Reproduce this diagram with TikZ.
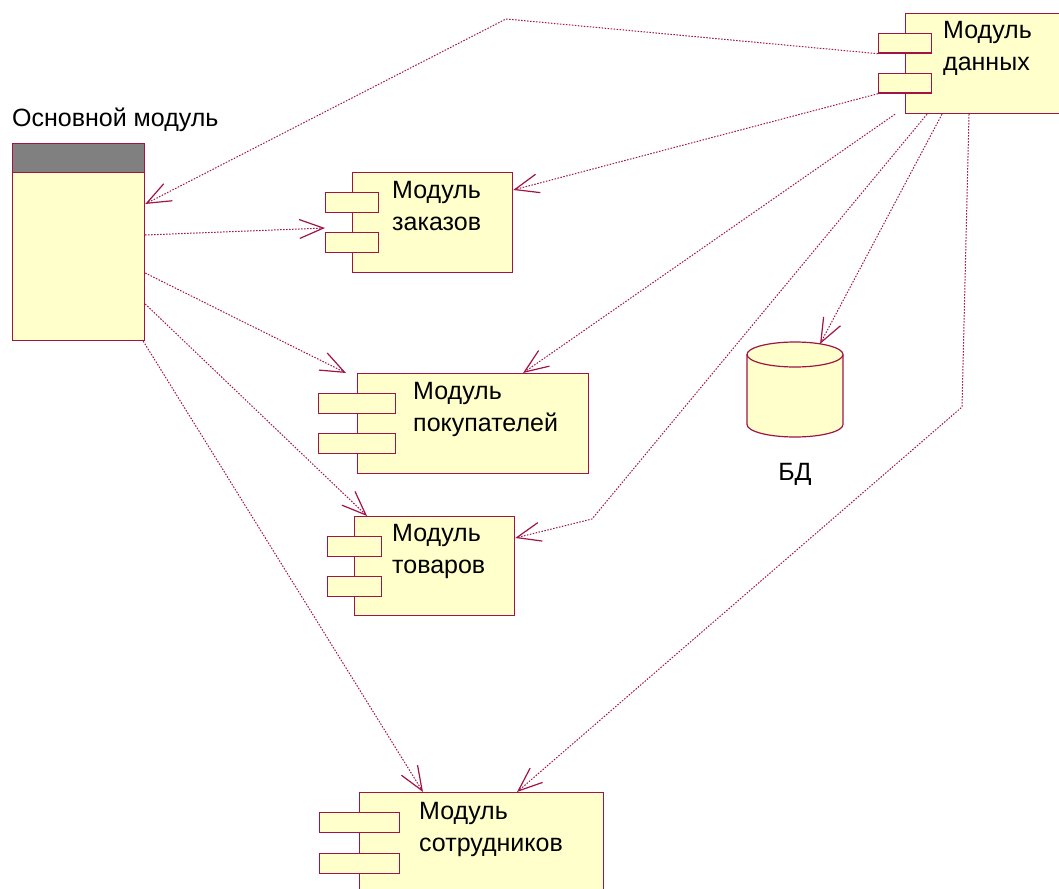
\documentclass[tikz,border=0pt]{standalone}
\usepackage{fontspec}
\setmainfont{Liberation Sans}
\usetikzlibrary{arrows.meta}

\definecolor{rosered}{RGB}{160,20,70}
\definecolor{roseyellow}{RGB}{255,255,204}
\definecolor{headgray}{RGB}{128,128,128}

\tikzset{
  box/.style={draw=rosered, fill=roseyellow, line width=1.2pt,
    anchor=north west, inner sep=0pt},
  port/.style={box, minimum height=19.5pt},
  lbl/.style={anchor=north west, inner sep=0pt, align=left,
    font=\fontsize{25pt}{32pt}\selectfont},
  dep/.style={rosered, line width=1pt, dash pattern=on 1.5pt off 1.5pt,
    -{Straight Barb[length=24pt,width=19pt,line width=1.2pt]}}
}

\begin{document}
\begin{tikzpicture}[x=1pt, y=-1pt]
    \clip (0,0) rectangle (1059,888);
    \fill[white] (0,0) rectangle (1059,888);

    % main module with grey title bar
    \node[box, minimum width=132pt, minimum height=197pt] (main) at (12,143) {};
    \node[box, fill=headgray, minimum width=132pt, minimum height=29pt] (mainhead) at (12,143) {};
    \node[lbl] (mainlbl) at (12,108) {Основной модуль};

    % components
    \node[box, minimum width=180pt, minimum height=100pt] (data) at (905,13) {};
    \node[port, minimum width=53pt] (data-p1) at (878,33) {};
    \node[port, minimum width=53pt] (data-p2) at (878,73) {};
    \node[lbl] (datalbl) at (943,21) {Модуль\\данных};

    \node[box, minimum width=160pt, minimum height=100pt] (orders) at (352,172) {};
    \node[port, minimum width=53pt] (orders-p1) at (325,192) {};
    \node[port, minimum width=53pt] (orders-p2) at (325,232) {};
    \node[lbl] (orderslbl) at (392,181) {Модуль\\заказов};

    \node[box, minimum width=231pt, minimum height=100pt] (clients) at (357,373) {};
    \node[port, minimum width=77pt] (clients-p1) at (318,393) {};
    \node[port, minimum width=77pt] (clients-p2) at (318,433) {};
    \node[lbl] (clientslbl) at (413,382) {Модуль\\покупателей};

    \node[box, minimum width=160pt, minimum height=99pt] (goods) at (354,516) {};
    \node[port, minimum width=54pt] (goods-p1) at (327,536) {};
    \node[port, minimum width=54pt] (goods-p2) at (327,576) {};
    \node[lbl] (goodslbl) at (392,524) {Модуль\\товаров};

    \node[box, minimum width=244pt, minimum height=110pt] (staff) at (359,792) {};
    \node[port, minimum width=80pt] (staff-p1) at (319,812) {};
    \node[port, minimum width=80pt] (staff-p2) at (319,853) {};
    \node[lbl] (stafflbl) at (419,802) {Модуль\\сотрудников};

    % database drum
    \filldraw[draw=rosered, fill=roseyellow, line width=1.2pt]
      (747,354.5) -- (747,424.5)
      arc[start angle=180, end angle=0, x radius=48, y radius=12.5] -- (843,354.5);
    \filldraw[draw=rosered, fill=roseyellow, line width=1.2pt]
      (795,354.5) ellipse[x radius=48, y radius=12.5];
    \coordinate (db) at (795,342);
    \node[lbl, anchor=north] (dblbl) at (795,463) {БД};

    % bend points
    \coordinate (bendtop) at (506,19);
    \coordinate (bendgoods) at (592,519);
    \coordinate (bendstaff) at (962,407);

    % dependencies of the data module
    \draw[dep] (data-p1.south west) -- (bendtop) -- ([yshift=-61pt]main.north east);
    \draw[dep] (data-p2.south west) -- ([yshift=-18pt]orders.north east);
    \draw[dep] ([xshift=-10pt]data.south west) -- ([xshift=166pt]clients.north west);
    \draw[dep] ([xshift=22pt]data.south west) -- (bendgoods) -- ([yshift=-22pt]goods.north east);
    \draw[dep] ([xshift=37pt]data.south west) -- ([xshift=25pt,yshift=-2pt]db);
    \draw[dep] ([xshift=64pt]data.south west) -- (bendstaff) -- ([xshift=158pt]staff.north west);

    % dependencies of the main module
    \draw[dep] ([yshift=-92pt]main.north east) -- ([yshift=4pt]orders-p2.north west);
    \draw[dep] ([yshift=-130pt]main.north east) -- ([xshift=-11pt]clients.north west);
    \draw[dep] ([yshift=-161pt]main.north east) -- ([xshift=13pt]goods.north west);
    \draw[dep] ([xshift=-2pt]main.south east) -- ([xshift=64pt]staff.north west);
\end{tikzpicture}
\end{document}
